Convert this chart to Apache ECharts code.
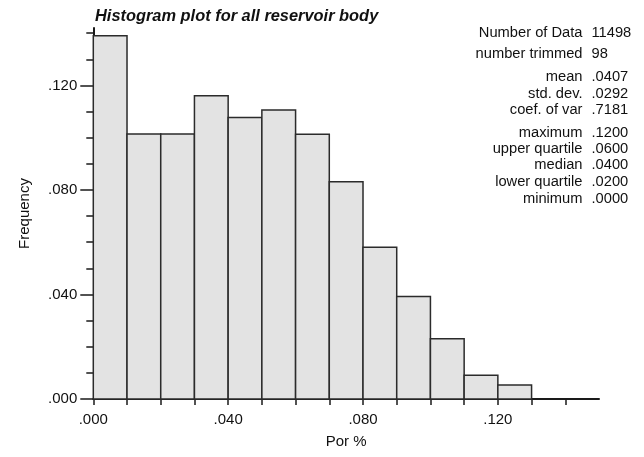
<!DOCTYPE html>
<html>
<head>
<meta charset="utf-8">
<script src="https://cdn.jsdelivr.net/npm/echarts@6/dist/echarts.min.js"></script>
<style>
html,body{margin:0;padding:0;background:#fff;}
#main{width:644px;height:457px;}
</style>
</head>
<body>
<div id="main"></div>
<script>
// ---- data ----
const binLeft  = [0.00, 0.01, 0.02, 0.03, 0.04, 0.05, 0.06, 0.07, 0.08, 0.09, 0.10, 0.11, 0.12];
const binRight = [0.01, 0.02, 0.03, 0.04, 0.05, 0.06, 0.07, 0.08, 0.09, 0.10, 0.11, 0.12, 0.13];
const frequency = [0.1390, 0.1014, 0.1014, 0.1161, 0.1077, 0.1106, 0.1013, 0.0832, 0.0581, 0.0392, 0.0231, 0.0091, 0.0054];

const xTickValues  = [0, 0.01, 0.02, 0.03, 0.04, 0.05, 0.06, 0.07, 0.08, 0.09, 0.10, 0.11, 0.12, 0.13, 0.14];
const xLabelValues = [0, 0.04, 0.08, 0.12];
const yMinorTickValues = [0, 0.01, 0.02, 0.03, 0.04, 0.05, 0.06, 0.07, 0.08, 0.09, 0.10, 0.11, 0.12, 0.13, 0.14];
const yLabelValues = [0, 0.04, 0.08, 0.12];

const titleText = 'Histogram plot for all reservoir body';
const xName = 'Por %';
const yName = 'Frequency';

const statLabels = ['Number of Data', 'number trimmed', 'mean', 'std. dev.', 'coef. of var',
                    'maximum', 'upper quartile', 'median', 'lower quartile', 'minimum'];
const statValues = ['11498', '98', '.0407', '.0292', '.7181', '.1200', '.0600', '.0400', '.0200', '.0000'];

// ---- layout (not data) ----
const statRowY = [33.3, 54.3, 76.7, 94.3, 110, 133.3, 148.7, 165, 181.7, 199];
const FONT = 'Arial, "Liberation Sans", sans-serif';
const fmt = v => v.toFixed(3).replace(/^0/, '');

const chart = echarts.init(document.getElementById('main'), null, {renderer: 'canvas'});

const graphics = [];
statLabels.forEach((t, i) => {
  graphics.push({type: 'text', x: 582.5, y: statRowY[i],
    style: {text: t, align: 'right', verticalAlign: 'middle', font: '14.7px ' + FONT, fill: '#111'}});
  graphics.push({type: 'text', x: 591.5, y: statRowY[i],
    style: {text: statValues[i], align: 'left', verticalAlign: 'middle', font: '14.7px ' + FONT, fill: '#111'}});
});

const option = {
  backgroundColor: '#fff',
  animation: false,
  title: {
    text: titleText, left: 95, top: 8, padding: 0,
    textStyle: {fontFamily: FONT, fontSize: 16.4, fontWeight: 'bold', fontStyle: 'italic', color: '#111'}
  },
  grid: {left: 93.3, right: 45, top: 28, bottom: 58, containLabel: false},
  xAxis: {
    type: 'value', min: 0, max: 0.15,
    name: xName, nameLocation: 'middle', nameGap: 35,
    nameTextStyle: {fontFamily: FONT, fontSize: 15, color: '#111'},
    axisLine: {show: true, lineStyle: {color: '#1a1a1a', width: 2}},
    axisTick: {show: true, customValues: xTickValues, length: 6, lineStyle: {color: '#1a1a1a', width: 1.5}},
    axisLabel: {customValues: xLabelValues, formatter: fmt, margin: 13,
      fontFamily: FONT, fontSize: 15, color: '#111'},
    splitLine: {show: false}
  },
  yAxis: [{
    type: 'value', min: 0, max: 0.142,
    name: yName, nameLocation: 'middle', nameGap: 61, nameRotate: 90,
    nameTextStyle: {fontFamily: FONT, fontSize: 15, color: '#111'},
    axisLine: {show: true, lineStyle: {color: '#1a1a1a', width: 2}},
    axisTick: {show: true, customValues: yMinorTickValues, length: 7, lineStyle: {color: '#1a1a1a', width: 1.5}},
    axisLabel: {customValues: yLabelValues, formatter: fmt, margin: 16,
      fontFamily: FONT, fontSize: 15, color: '#111', padding: [0, 0, 7, 0]},
    splitLine: {show: false}
  }, {
    type: 'value', min: 0, max: 0.142, position: 'left', offset: 0,
    axisLine: {show: false},
    axisTick: {show: true, customValues: yLabelValues, length: 13, lineStyle: {color: '#1a1a1a', width: 1.5}},
    axisLabel: {show: false},
    splitLine: {show: false}
  }],
  series: [{
    type: 'custom',
    xAxisIndex: 0, yAxisIndex: 0,
    data: binLeft.map((l, i) => [l, binRight[i], frequency[i]]),
    encode: {x: [0, 1], y: 2},
    renderItem: function (params, api) {
      const pTop = api.coord([api.value(0), api.value(2)]);
      const pBot = api.coord([api.value(1), 0]);
      return {
        type: 'rect',
        shape: {x: pTop[0], y: pTop[1], width: pBot[0] - pTop[0], height: pBot[1] - pTop[1]},
        style: {fill: '#e3e3e3', stroke: '#2b2b2b', lineWidth: 1.5}
      };
    },
    z: 1
  }],
  graphic: graphics
};
chart.setOption(option);
</script>
</body>
</html>
